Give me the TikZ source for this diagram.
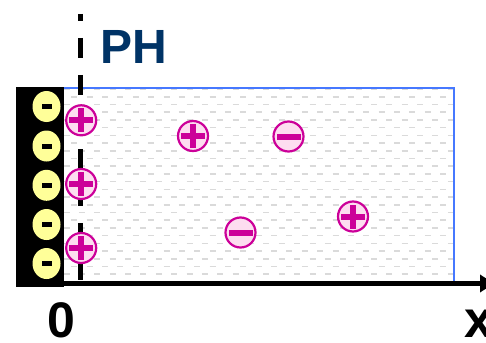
\documentclass[tikz,border=0pt]{standalone}
\usepackage{fontspec}
\setmainfont{Liberation Sans}
\usetikzlibrary{arrows.meta,shapes.geometric}
\definecolor{phblue}{RGB}{0,51,102}
\definecolor{ionmag}{RGB}{204,0,153}
\definecolor{ionpink}{RGB}{253,221,240}
\definecolor{chargeyel}{RGB}{255,255,153}
\definecolor{waterblue}{RGB}{70,120,255}
\definecolor{watergray}{RGB}{218,218,218}
\tikzset{
	cation/.style={circle, draw=ionmag, fill=ionpink, line width=2.2pt, minimum size=30pt, inner sep=0pt,
		path picture={
			\fill[ionmag]([xshift=-12pt,yshift=-3pt]path picture bounding box.center) rectangle ++(24pt,6pt);
			\fill[ionmag]([xshift=-3pt,yshift=-12pt]path picture bounding box.center) rectangle ++(6pt,24pt);}},
	anion/.style={circle, draw=ionmag, fill=ionpink, line width=2.2pt, minimum size=30pt, inner sep=0pt,
		path picture={
			\fill[ionmag]([xshift=-12pt,yshift=-3pt]path picture bounding box.center) rectangle ++(24pt,6pt);}},
	surfcharge/.style={ellipse, fill=chargeyel, minimum width=28pt, minimum height=31pt, inner sep=0pt,
		path picture={
			\fill[black]([xshift=-5pt,yshift=-2.5pt]path picture bounding box.center) rectangle ++(10pt,5pt);}},
	waterdash/.style={watergray, line width=1.6pt},
	axisline/.style={line width=5pt, -{Triangle[length=14pt,width=17pt]}},
	phline/.style={line width=5pt, dash pattern=on 20pt off 17pt, dash phase=13pt},
	biglabel/.style={font=\bfseries\fontsize{50}{50}\selectfont, anchor=base}
}
\begin{document}
\begin{tikzpicture}[x=1pt,y=-1pt]
			\useasboundingbox(0,0) rectangle (486,342);
			\begin{scope}
				\clip(64,89) rectangle (454,282);
				\foreach \k in {0,...,24}{
					\pgfmathsetmacro\rowy{89+7.72*\k}
					\pgfmathsetmacro\rowx{mod(\k,2)==1 ? 74.3 : 66.6}
					\foreach \m in {0,...,25}
						\draw[waterdash]({\rowx+15.37*\m-3},\rowy) -- ++(6,0);
				}
			\end{scope}
			\draw[waterblue, line width=2pt](64,88.3) -- (454,88.3) -- (454,283.5);
			\fill[black](15.7,87.3) rectangle (64.3,286.7);
			\foreach \y [count=\i] in {106.5,146,185.3,224.5,263.5}
				\node[surfcharge](e\i) at (46.5,\y) {};
			\coordinate (o) at (62,283.5);
			\coordinate (xend) at (494,283.5);
			\draw[axisline](o) -- (xend);
			\coordinate (phtop) at (80.8,14);
			\coordinate (phbot) at (80.8,283);
			\draw[phline](phtop) -- (phbot);
			\node[cation](c1) at (81.2,120.3) {};
			\node[cation](c2) at (81.2,184) {};
			\node[cation](c3) at (81.2,248) {};
			\node[cation](c4) at (193,136) {};
			\node[cation](c5) at (353,216.5) {};
			\node[anion](a1) at (288.5,136.5) {};
			\node[anion](a2) at (240.5,232.5) {};
			\node[biglabel, text=phblue, font=\bfseries\fontsize{48}{48}\selectfont](ph) at (134,64) {PH};
			\node[biglabel](zero) at (61.5,337) {0};
			\node[biglabel, font=\bfseries\fontsize{52}{52}\selectfont](xlab) at (479,337) {x};
		\end{tikzpicture}
\end{document}
